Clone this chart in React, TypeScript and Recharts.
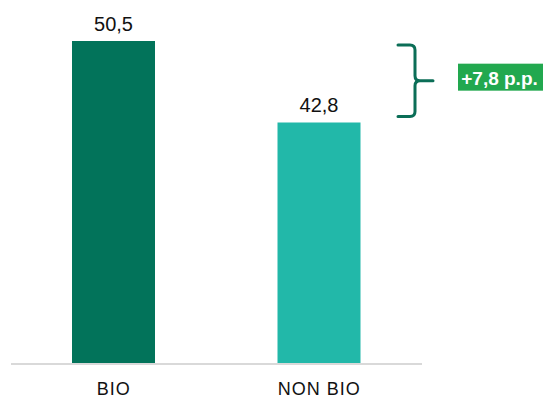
import React from "react";
import { BarChart, Bar, XAxis, YAxis, Cell, LabelList, ReferenceArea } from "recharts";

const categories = ["BIO", "NON BIO"];
const values = [50.5, 42.8];
const barColors = ["#02735a", "#22b8a9"];
const gapLabel = "+7,8 p.p.";

const data = categories.map((name, i) => ({ name, value: values[i] }));

const fmt = (v: number) => v.toFixed(1).replace(".", ",");

// Curly bracket spanning the gap between the two bar heights, with a badge.
const Bracket = (props: any) => {
  const { x, y, width, height } = props;
  const right = x + width;
  const top = y + 4;
  const bottom = y + height - 6;
  const mid = (top + bottom) / 2;
  const vx = right - 7;
  const left = right - 24;
  const nib = right + 11;
  const r = 5;
  const d = [
    `M ${left} ${top} L ${vx - r} ${top} Q ${vx} ${top} ${vx} ${top + r}`,
    `L ${vx} ${mid - r} Q ${vx} ${mid} ${vx + r} ${mid} L ${nib} ${mid}`,
    `M ${vx + r} ${mid} Q ${vx} ${mid} ${vx} ${mid + r}`,
    `L ${vx} ${bottom - r} Q ${vx} ${bottom} ${vx - r} ${bottom} L ${left} ${bottom}`,
  ].join(" ");
  const bx = right + 36;
  const bw = 85;
  const bh = 27;
  const by = mid - 3.5 - bh / 2;
  return (
    <g>
      <path d={d} fill="none" stroke="#0b6e57" strokeWidth={3} strokeLinecap="round" />
      <rect x={bx} y={by} width={bw} height={bh} fill="#22a84f" />
      <text
        x={bx + bw / 2 - 1}
        y={by + bh / 2 + 1}
        textAnchor="middle"
        dominantBaseline="central"
        fill="#ffffff"
        fontFamily="'Liberation Sans', sans-serif"
        fontWeight="bold"
        fontSize={19}
      >
        {gapLabel}
      </text>
    </g>
  );
};

export default function App() {
  return (
    <div style={{ position: "absolute", left: 0, top: 0, width: 544, height: 400, overflow: "hidden" }}>
      <BarChart
        width={544}
        height={400}
        data={data}
        margin={{ top: 25, right: 122, bottom: 6, left: 11 }}
        style={{ fontFamily: "'Liberation Sans', sans-serif" }}
      >
        <XAxis
          dataKey="name"
          axisLine={{ stroke: "#d9d9d9", strokeWidth: 2 }}
          tickLine={false}
          height={30}
          tick={{ fill: "#111111", fontSize: 18, letterSpacing: 1 }}
          tickMargin={12}
        />
        <YAxis hide domain={[20, 52]} allowDataOverflow />
        <Bar dataKey="value" barSize={83} isAnimationActive={false}>
          {data.map((d, i) => (
            <Cell key={d.name} fill={barColors[i]} />
          ))}
          <LabelList
            dataKey="value"
            position="top"
            offset={10}
            formatter={(v: any) => fmt(Number(v))}
            style={{ fill: "#111111", fontSize: 20 }}
          />
        </Bar>
        <ReferenceArea
          y1={values[1]}
          y2={values[0]}
          ifOverflow="visible"
          shape={<Bracket />}
        />
      </BarChart>
    </div>
  );
}
